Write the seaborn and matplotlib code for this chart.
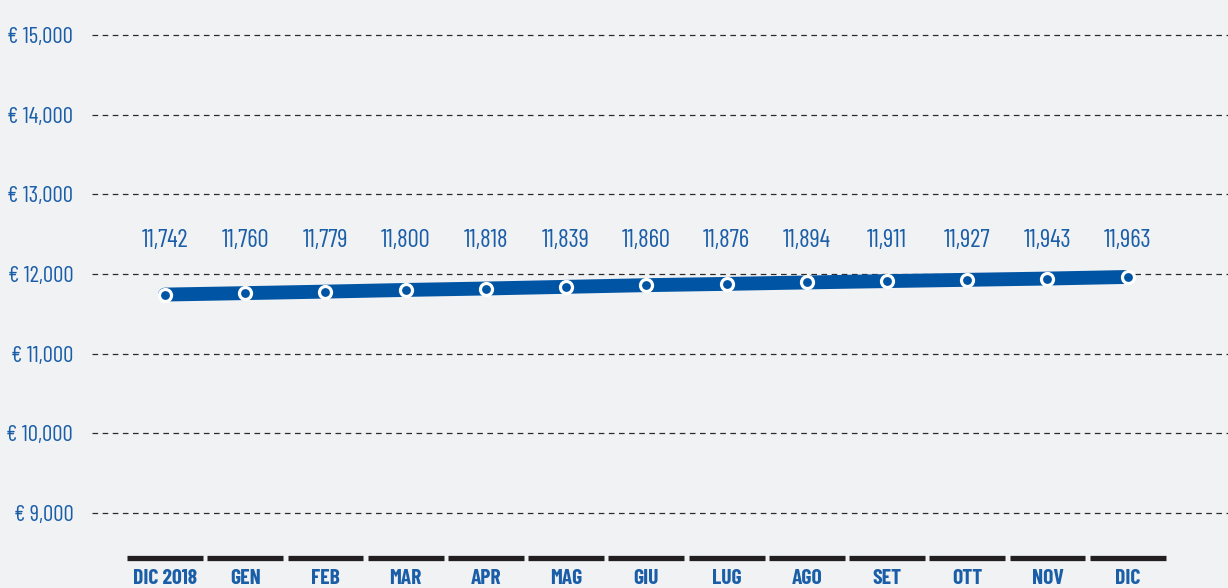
import matplotlib
matplotlib.use("Agg")
import matplotlib.pyplot as plt
import matplotlib.transforms as mtransforms
from matplotlib import font_manager
import seaborn as sns
import pandas as pd

# Monthly values
months = ["DIC 2018", "GEN", "FEB", "MAR", "APR", "MAG", "GIU",
          "LUG", "AGO", "SET", "OTT", "NOV", "DIC"]
values = [11742, 11760, 11779, 11800, 11818, 11839, 11860,
          11876, 11894, 11911, 11927, 11943, 11963]
y_ticks = [9000, 10000, 11000, 12000, 13000, 14000, 15000]

BG = "#f1f2f4"
LINE_BLUE = "#0054a4"
TEXT_BLUE = "#1a5ea8"
BAR_DARK = "#231f20"

sns.set_style("white", {"axes.facecolor": BG, "figure.facecolor": BG})

available = {f.name for f in font_manager.fontManager.ttflist}
condensed = next((n for n in ["Barlow Condensed", "Oswald", "Roboto Condensed",
                              "Archivo Narrow", "Roboto"] if n in available),
                 "DejaVu Sans")
plt.rcParams["font.family"] = [condensed, "DejaVu Sans"]

df = pd.DataFrame({"idx": range(len(months)), "value": values})

fig = plt.figure(figsize=(12.28, 5.88), dpi=100)
ax = fig.add_axes([92 / 1228, 1 - 561 / 588, 1 - 92 / 1228, 561 / 588])
ax.set_facecolor(BG)

# dashed horizontal grid
for v in y_ticks:
    ax.axhline(v, color="#2b2b2b", lw=0.9, ls=(0, (4.5, 3.6)), zorder=1)

sns.lineplot(data=df, x="idx", y="value", ax=ax, color=LINE_BLUE,
             linewidth=10, solid_capstyle="round", zorder=3, legend=False)
ax.scatter(df["idx"], df["value"], s=75, facecolor=LINE_BLUE,
           edgecolor="white", linewidth=2.3, zorder=4)

# value labels on a common row above the line
label_y = 12425
for i, v in enumerate(values):
    ax.text(i, label_y, f"{v:,}", ha="center", va="center",
            color=TEXT_BLUE, fontsize=18, zorder=5)

# dark segment under each month
trans = mtransforms.blended_transform_factory(ax.transData, ax.transAxes)
for i in range(len(months)):
    ax.plot([i - 0.473, i + 0.473], [0.0045, 0.0045], transform=trans,
            color=BAR_DARK, lw=3.8, solid_capstyle="butt", clip_on=False,
            zorder=5)

ax.set_xlim(-0.91, 13.25)
ax.set_ylim(8398, 15439)
ax.set_yticks(y_ticks)
ax.set_yticklabels([f"€ {v:,}" for v in y_ticks], color=TEXT_BLUE, fontsize=16.5)
ax.set_xticks(range(len(months)))
ax.set_xticklabels(months, color=TEXT_BLUE, fontsize=15.5, fontweight="bold")
ax.tick_params(axis="y", length=0, pad=13.5)
ax.tick_params(axis="x", length=0, pad=5.5)
ax.set_xlabel("")
ax.set_ylabel("")
for s in ax.spines.values():
    s.set_visible(False)

fig.savefig("out.png", dpi=100, facecolor=BG)
